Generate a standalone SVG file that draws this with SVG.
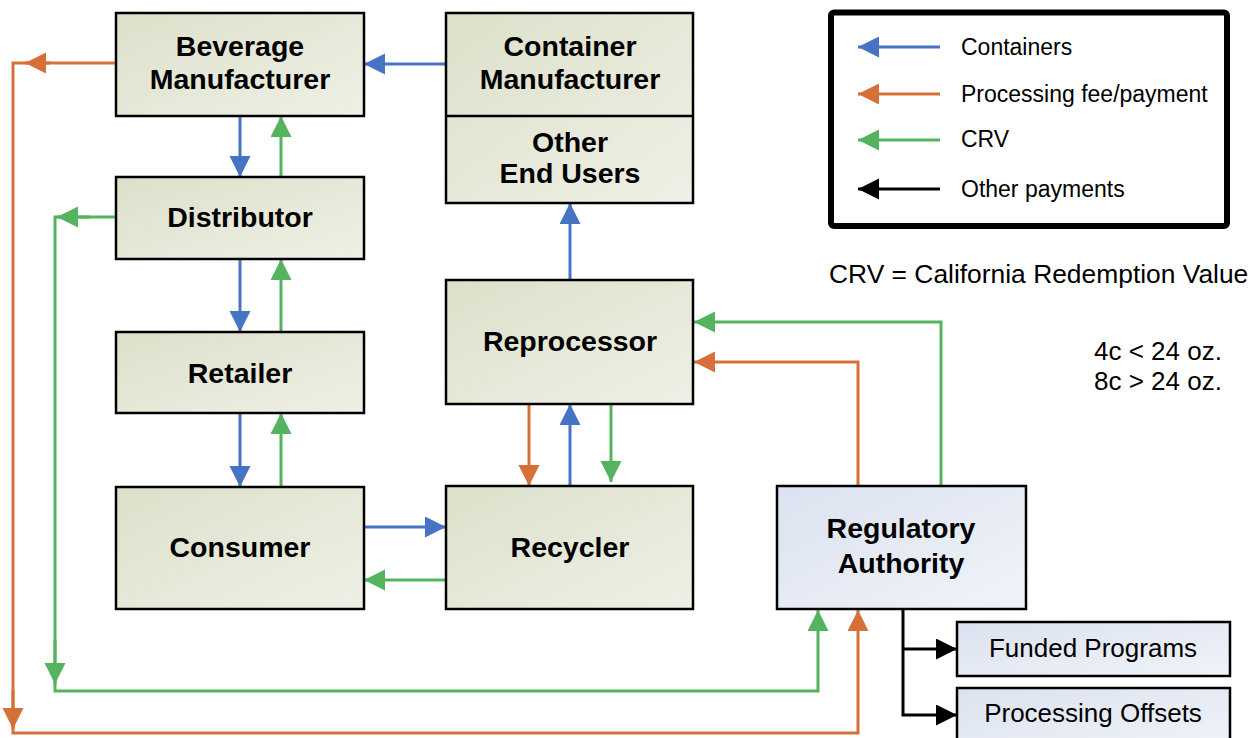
<svg xmlns="http://www.w3.org/2000/svg" width="1258" height="738" viewBox="0 0 1258 738">
<style>
.box{stroke:#000;stroke-width:2.5}
.g{fill:url(#gg)}
.b{fill:url(#gb)}
.t{font-family:"Liberation Sans",Arial,sans-serif;font-weight:bold;font-size:28.5px;text-anchor:middle;fill:#000}
.r{font-family:"Liberation Sans",Arial,sans-serif;font-size:26px;fill:#000}
.n{font-family:"Liberation Sans",Arial,sans-serif;font-size:26.4px;fill:#000}
.l{font-family:"Liberation Sans",Arial,sans-serif;font-size:23px;fill:#000}
.c{fill:none;stroke-width:3}
.blue{stroke:#4673C3}
.or{stroke:#D5703A}
.gr{stroke:#55B35F}
.bk{stroke:#000}
</style>
<defs>
<linearGradient id="gg" x1="0" y1="0" x2="1" y2="1">
<stop offset="0" stop-color="#dce0c9"/>
<stop offset="1" stop-color="#eff0e6"/>
</linearGradient>
<linearGradient id="gb" x1="0" y1="0" x2="1" y2="1">
<stop offset="0" stop-color="#dbe2ef"/>
<stop offset="1" stop-color="#f0f3f9"/>
</linearGradient>
<marker id="ab" markerUnits="userSpaceOnUse" markerWidth="22" markerHeight="22" refX="21" refY="10.5" orient="auto" viewBox="0 0 22 22"><path d="M0,0 L21,10.5 L0,21 z" fill="#4673C3"/></marker>
<marker id="ao" markerUnits="userSpaceOnUse" markerWidth="22" markerHeight="22" refX="21" refY="10.5" orient="auto" viewBox="0 0 22 22"><path d="M0,0 L21,10.5 L0,21 z" fill="#D5703A"/></marker>
<marker id="ag" markerUnits="userSpaceOnUse" markerWidth="22" markerHeight="22" refX="21" refY="10.5" orient="auto" viewBox="0 0 22 22"><path d="M0,0 L21,10.5 L0,21 z" fill="#55B35F"/></marker>
<marker id="ak" markerUnits="userSpaceOnUse" markerWidth="22" markerHeight="22" refX="21" refY="10.5" orient="auto" viewBox="0 0 22 22"><path d="M0,0 L21,10.5 L0,21 z" fill="#000"/></marker>
</defs>
<rect width="1258" height="738" fill="#fff"/>

<g id="connectors">
<path class="c blue" d="M446,64 H364" marker-end="url(#ab)"/>
<path class="c blue" d="M240,116 V177" marker-end="url(#ab)"/>
<path class="c gr" d="M281,177 V116" marker-end="url(#ag)"/>
<path class="c blue" d="M240,259 V332" marker-end="url(#ab)"/>
<path class="c gr" d="M281,332 V259" marker-end="url(#ag)"/>
<path class="c blue" d="M240,413 V487" marker-end="url(#ab)"/>
<path class="c gr" d="M281,487 V413" marker-end="url(#ag)"/>
<path class="c blue" d="M364,527 H446" marker-end="url(#ab)"/>
<path class="c gr" d="M446,580 H364" marker-end="url(#ag)"/>
<path class="c or" d="M529,404 V486" marker-end="url(#ao)"/>
<path class="c blue" d="M570,486 V404" marker-end="url(#ab)"/>
<path class="c gr" d="M611,404 V482" marker-end="url(#ag)"/>
<path class="c blue" d="M570,280 V203" marker-end="url(#ab)"/>
<path class="c gr" d="M941,486 V322 H694" marker-end="url(#ag)"/>
<path class="c or" d="M858,486 V362 H694" marker-end="url(#ao)"/>
<path class="c or" d="M116,63 H13 V733 H858 V610" marker-end="url(#ao)"/>
<path class="c or" d="M50,63 H25" marker-end="url(#ao)"/>
<path class="c or" d="M13,690 V729" marker-end="url(#ao)"/>
<path class="c gr" d="M116,217 H55 V691 H818 V610" marker-end="url(#ag)"/>
<path class="c gr" d="M90,217 H57" marker-end="url(#ag)"/>
<path class="c gr" d="M55,640 V684" marker-end="url(#ag)"/>
<path class="c bk" d="M903,609 V715 H957" marker-end="url(#ak)"/>
<path class="c bk" d="M903,649 H957" marker-end="url(#ak)"/>
</g>

<g id="bev">
<rect class="box g" x="116" y="13" width="248" height="103"/>
<text class="t" x="240" y="56">Beverage</text>
<text class="t" x="240" y="89">Manufacturer</text>
</g>
<g id="container">
<rect class="box g" x="446" y="13" width="247" height="190"/>
<line class="box" x1="446" y1="116" x2="693" y2="116"/>
<text class="t" x="570" y="56">Container</text>
<text class="t" x="570" y="89">Manufacturer</text>
<text class="t" x="570" y="152">Other</text>
<text class="t" x="570" y="183">End Users</text>
</g>
<g id="distributor">
<rect class="box g" x="116" y="177" width="248" height="82"/>
<text class="t" x="240" y="227">Distributor</text>
</g>
<g id="retailer">
<rect class="box g" x="116" y="332" width="248" height="81"/>
<text class="t" x="240" y="383">Retailer</text>
</g>
<g id="consumer">
<rect class="box g" x="116" y="487" width="248" height="122"/>
<text class="t" x="240" y="557">Consumer</text>
</g>
<g id="reprocessor">
<rect class="box g" x="446" y="280" width="247" height="124"/>
<text class="t" x="570" y="351">Reprocessor</text>
</g>
<g id="recycler">
<rect class="box g" x="446" y="486" width="247" height="123"/>
<text class="t" x="570" y="557">Recycler</text>
</g>
<g id="regulatory">
<rect class="box b" x="777" y="486" width="249" height="123"/>
<text class="t" x="901" y="538">Regulatory</text>
<text class="t" x="901" y="573">Authority</text>
</g>
<g id="funded">
<rect class="box b" x="957" y="622" width="273" height="54"/>
<text class="r" x="1093" y="657" text-anchor="middle">Funded Programs</text>
</g>
<g id="offsets">
<rect class="box b" x="957" y="688" width="273" height="60"/>
<text class="r" x="1093" y="722" text-anchor="middle">Processing Offsets</text>
</g>

<g id="legend">
<rect x="831" y="12.5" width="396" height="213.5" rx="3" fill="#fff" stroke="#000" stroke-width="6"/>
<path class="c blue" d="M940,47 H858" marker-end="url(#ab)"/>
<path class="c or" d="M940,94 H858" marker-end="url(#ao)"/>
<path class="c gr" d="M940,140 H858" marker-end="url(#ag)"/>
<path class="c bk" d="M940,189 H858" marker-end="url(#ak)"/>
<text class="l" x="961" y="55">Containers</text>
<text class="l" x="961" y="102">Processing fee/payment</text>
<text class="l" x="961" y="147">CRV</text>
<text class="l" x="961" y="197">Other payments</text>
</g>
<g id="notes">
<text class="n" x="829" y="283">CRV = California Redemption Value</text>
<text class="r" x="1094" y="360">4c &lt; 24 oz.</text>
<text class="r" x="1094" y="390">8c &gt; 24 oz.</text>
</g>
</svg>
